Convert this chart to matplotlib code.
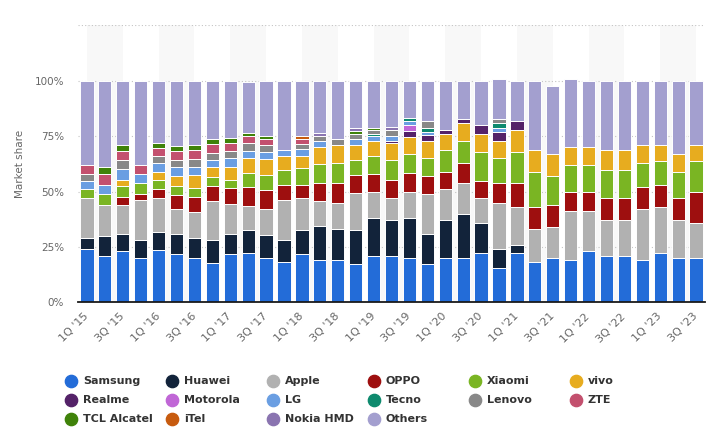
import numpy as np
import matplotlib.pyplot as plt

quarters = ["1Q '15", "2Q '15", "3Q '15", "4Q '15",
            "1Q '16", "2Q '16", "3Q '16", "4Q '16",
            "1Q '17", "2Q '17", "3Q '17", "4Q '17",
            "1Q '18", "2Q '18", "3Q '18", "4Q '18",
            "1Q '19", "2Q '19", "3Q '19", "4Q '19",
            "1Q '20", "2Q '20", "3Q '20", "4Q '20",
            "1Q '21", "2Q '21", "3Q '21", "4Q '21",
            "1Q '22", "2Q '22", "3Q '22", "4Q '22",
            "1Q '23", "2Q '23", "3Q '23"]

# market share in %, one value per quarter
samsung = [24.0, 20.8, 23.1, 19.8, 23.6, 21.8, 19.9, 17.7, 21.7, 22.1, 20.2, 18.0,
           21.6, 19.3, 18.9, 17.5, 20.7, 21.1, 20.2, 17.1, 19.8, 19.8, 22.1, 15.7,
           22.1, 18.0, 19.8, 18.9, 23.0, 20.7, 20.7, 18.9, 22.1, 19.8, 19.8]
huawei = [5.0, 9.0, 7.7, 8.3, 8.1, 9.0, 9.1, 10.4, 9.0, 10.4, 10.0, 9.9,
          10.9, 15.0, 14.2, 15.0, 17.2, 15.9, 17.7, 13.6, 17.2, 19.9, 13.5, 8.2,
          3.6, 0, 0, 0, 0, 0, 0, 0, 0, 0, 0]
apple = [18.0, 14.2, 13.2, 18.1, 15.4, 11.3, 11.8, 17.7, 13.6, 10.9, 11.8, 18.2,
         14.5, 11.3, 11.6, 16.7, 11.9, 10.0, 11.8, 18.1, 14.1, 14.1, 11.4, 20.8,
         17.2, 14.9, 14.0, 22.2, 18.1, 16.3, 16.3, 23.1, 20.8, 17.2, 15.8]
oppo = [0, 0, 3.7, 2.7, 4.1, 6.4, 6.8, 6.8, 7.3, 8.6, 8.6, 6.8,
        5.9, 8.2, 9.1, 8.2, 8.2, 8.1, 8.6, 8.1, 7.7, 9.0, 7.7, 9.1,
        10.9, 10.0, 10.0, 8.6, 8.6, 10.0, 10.0, 10.0, 10.0, 10.0, 14.1]
xiaomi = [4.1, 4.9, 4.9, 5.0, 4.1, 4.1, 4.1, 4.0, 3.6, 6.3, 6.8, 6.8,
          7.7, 8.7, 9.0, 6.8, 8.0, 9.1, 8.6, 8.2, 9.9, 10.0, 13.1, 11.3,
          14.0, 15.9, 13.1, 12.2, 12.2, 12.7, 12.7, 10.8, 10.8, 11.8, 14.0]
vivo = [0, 0, 2.7, 0, 3.6, 4.5, 5.9, 4.6, 5.9, 6.8, 7.3, 6.3,
        5.4, 7.7, 8.2, 6.8, 6.8, 7.7, 7.7, 7.7, 7.3, 8.2, 8.2, 7.7,
        10.0, 9.9, 10.0, 8.2, 8.2, 9.0, 9.0, 8.2, 7.3, 8.1, 7.3]
realme = [0, 0, 0, 0, 0, 0, 0, 0, 0, 0, 0, 0,
          0, 0, 0, 0, 0, 0.9, 2.7, 2.6, 1.8, 1.8, 4.1, 4.1,
          4.1, 0, 0, 0, 0, 0, 0, 0, 0, 0, 0]
motorola = [0, 0, 0, 0, 0, 0, 0, 0, 0, 0, 0, 0,
            0, 0, 0, 0, 0, 0, 2.8, 0, 0, 0, 0, 0,
            0, 0, 0, 0, 0, 0, 0, 0, 0, 0, 0]
lg = [3.6, 4.1, 5.0, 4.1, 4.1, 4.1, 3.6, 3.2, 4.1, 3.2, 3.1, 2.7,
      3.2, 2.8, 0, 2.7, 2.3, 2.4, 1.8, 1.5, 0, 0, 0, 1.8,
      0, 0, 0, 0, 0, 0, 0, 0, 0, 0, 0]
tecno = [0, 0, 0, 0, 0, 0, 0, 0, 0, 0, 0, 0,
         0, 0, 0, 0, 0.9, 0, 1.3, 1.8, 0, 0, 0, 2.3,
         0, 0, 0, 0, 0, 0, 0, 0, 0, 0, 0]
lenovo = [3.3, 0, 4.1, 0, 3.2, 3.2, 3.6, 3.1, 3.1, 3.6, 3.2, 0,
          2.3, 2.2, 2.7, 2.3, 1.6, 2.6, 0, 3.2, 0, 0, 0, 1.8,
          0, 0, 0, 0, 0, 0, 0, 0, 0, 0, 0]
zte = [4.1, 5.0, 4.0, 4.1, 3.6, 4.0, 4.1, 4.1, 3.7, 3.2, 2.7, 0,
       2.2, 0, 0, 0, 0, 0, 0, 0, 0, 0, 0, 0,
       0, 0, 0, 0, 0, 0, 0, 0, 0, 0, 0]
tcl = [0, 3.2, 2.7, 0, 2.3, 2.3, 2.2, 2.3, 2.2, 1.3, 1.4, 0,
       0, 0, 0, 1.3, 1.1, 0, 0, 0, 0, 0, 0, 0,
       0, 0, 0, 0, 0, 0, 0, 0, 0, 0, 0]
itel = [0, 0, 0, 0, 0, 0, 0, 0, 0, 0, 0, 0,
        1.4, 0, 0, 0, 0, 0, 0, 0, 0, 0, 0, 0,
        0, 0, 0, 0, 0, 0, 0, 0, 0, 0, 0]
nokia = [0, 0, 0, 0, 0, 0, 0, 0, 0, 0, 0, 0,
         0, 1.4, 0, 1.4, 0, 1.5, 0, 0, 0, 0, 0, 0,
         0, 0, 0, 0, 0, 0, 0, 0, 0, 0, 0]
others = [37.9, 38.8, 28.9, 37.9, 27.9, 29.3, 28.9, 26.1, 25.8, 23.1, 24.9, 31.3,
          24.9, 23.4, 26.3, 21.3, 21.3, 20.7, 16.8, 18.1, 22.2, 17.2, 19.9, 18.1,
          18.1, 31.3, 30.7, 30.8, 29.9, 31.3, 31.3, 29.0, 29.0, 33.1, 29.0]

brands = ["Samsung", "Huawei", "Apple", "OPPO", "Xiaomi", "vivo",
          "Realme", "Motorola", "LG", "Tecno", "Lenovo", "ZTE",
          "TCL Alcatel", "iTel", "Nokia HMD", "Others"]
series = [samsung, huawei, apple, oppo, xiaomi, vivo, realme, motorola,
          lg, tecno, lenovo, zte, tcl, itel, nokia, others]
colors = ["#236cd8", "#12233a", "#b1b1b1", "#9e0f0f", "#7ab523", "#e7ac1f",
          "#542268", "#c066d6", "#6a9ee2", "#0e8a6e", "#888888", "#c3506e",
          "#3f8209", "#c75b0f", "#8a74b0", "#a39fcf"]

fig = plt.figure(figsize=(7.15, 4.46), dpi=100)
ax = fig.add_axes([78 / 715, 1 - 302.3 / 446, 627 / 715, 277 / 446])

x = np.arange(len(quarters))

# alternating light bands between labelled ticks
for k in range(0, len(quarters) - 1, 4):
    ax.axvspan(k, k + 2, color="#f8f8f8", lw=0, zorder=0)

bottom = np.zeros(len(quarters))
for name, vals, col in zip(brands, series, colors):
    vals = np.array(vals)
    ax.bar(x, vals, width=0.74, bottom=bottom, color=col,
           edgecolor="white", linewidth=0.7, zorder=3)
    bottom += vals

ax.set_xlim(-0.5, len(quarters) - 0.5)
ax.set_ylim(0, 125)
ax.set_yticks([0, 25, 50, 75, 100, 125])
ax.set_yticklabels(["0%", "25%", "50%", "75%", "100%", ""])
ax.yaxis.grid(True, linestyle=(0, (1, 2)), color="#c4c4c4", lw=0.8)
ax.set_axisbelow(True)

ax.set_xticks(x[::2])
ax.set_xticklabels(quarters[::2], rotation=45, ha="right", va="center",
                   rotation_mode="anchor")
ax.tick_params(axis="x", length=0, pad=9, labelsize=8, labelcolor="#666666")
ax.tick_params(axis="y", length=0, pad=10, labelsize=7.5, labelcolor="#666666")

for s in ["top", "right", "left"]:
    ax.spines[s].set_visible(False)
ax.spines["bottom"].set_color("#1a1a1a")
ax.spines["bottom"].set_linewidth(1.3)
ax.spines["bottom"].set_zorder(5)

ax.set_ylabel("Market share", fontsize=7.5, color="#666666", labelpad=7)

# legend laid out by hand, row by row
lax = fig.add_axes([0, 0, 1, 1])
lax.set_xlim(0, 715)
lax.set_ylim(446, 0)
lax.axis("off")
for i, (name, col) in enumerate(zip(brands, colors)):
    r, c = divmod(i, 6)
    lx = 71 + c * 101
    ly = 381 + r * 19
    lax.scatter([lx], [ly], s=78, color=col, zorder=3)
    lax.text(lx + 12, ly, name, va="center", ha="left", fontsize=8,
             fontweight="bold", color="#333333")

fig.savefig("out.png", dpi=100)
